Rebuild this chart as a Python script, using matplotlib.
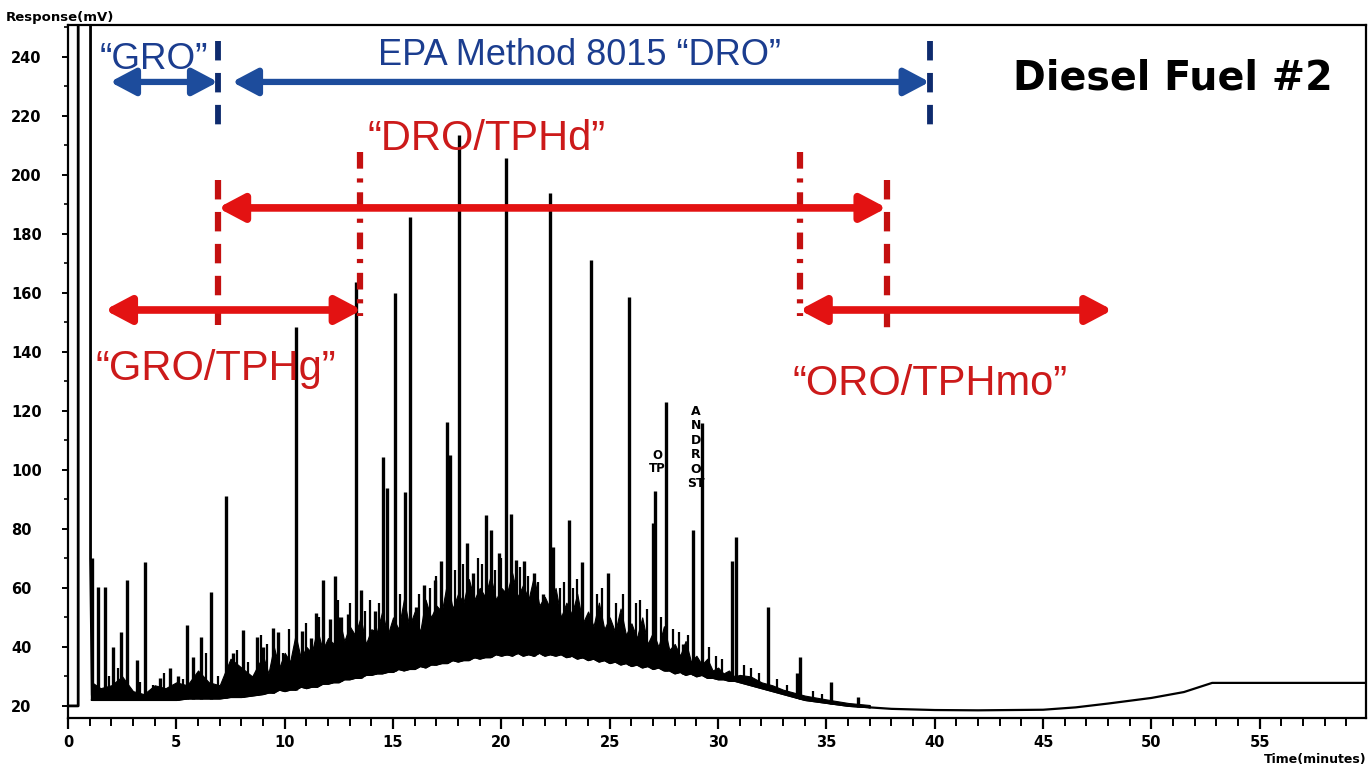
import numpy as np
import matplotlib
matplotlib.use("Agg")
import matplotlib.pyplot as plt
from matplotlib.ticker import MultipleLocator

plt.rcParams["lines.scale_dashes"] = False

# ---------------- data ----------------
# solvent front (off scale)
solvent_t = [0.0, 0.47, 0.47, 1.04, 1.04, 1.12]
solvent_v = [20, 20, 300, 300, 70, 24]

# unresolved hump: lower and upper edge of the dense trace
band_t = [1.1, 1.5, 2.0, 2.5, 3.0, 3.5, 4.0, 4.5, 5.0, 5.5, 6.0, 6.5, 7.0, 7.5,
          8.0, 8.5,
          9.0, 9.25, 9.5, 9.75, 10.0, 10.25, 10.5, 10.75, 11.0, 11.25, 11.5, 11.75,
          12.0, 12.25, 12.5, 12.75, 13.0, 13.25, 13.5, 13.75, 14.0, 14.25, 14.5,
          14.75, 15.0, 15.25, 15.5, 15.75, 16.0, 16.25, 16.5, 16.75, 17.0, 17.25,
          17.5, 17.75, 18.0, 18.25, 18.5, 18.75, 19.0, 19.25, 19.5, 19.75, 20.0,
          20.25, 20.5, 20.75, 21.0, 21.25, 21.5, 21.75, 22.0, 22.25, 22.5, 22.75,
          23.0, 23.25, 23.5, 23.75, 24.0, 24.25, 24.5, 24.75, 25.0, 25.25, 25.5,
          25.75, 26.0, 26.25, 26.5, 26.75, 27.0, 27.25, 27.5, 27.75, 28.0, 28.25,
          28.5, 28.75, 29.0, 29.25, 29.5, 29.75, 30.0, 30.25, 30.5, 30.75, 31.0,
          31.5, 32.0, 32.5, 33.0, 33.5, 34.0, 35.0, 36.0, 37.0]
band_lo = [22, 22, 22, 22, 22, 22, 22, 22, 22, 22.5, 22.5, 22.5, 22.5, 23,
           23, 23.5,
           24, 24.5, 24.5, 25.5, 25, 25.5, 25.5, 26.5, 26, 26.5, 26.5, 27.5,
           27.5, 28, 28, 29, 29, 29.5, 29.5, 30.5, 30.5, 31, 31,
           31.5, 31.5, 32.5, 32, 32.5, 32.5, 33.5, 33, 34, 34, 34.5,
           34.5, 35.5, 35, 35.5, 35.5, 36.5, 36, 36.5, 36.5, 37.5, 37,
           37.5, 37, 38, 37, 37.5, 37, 38, 37, 37.5, 37, 37.5,
           36.5, 37, 36, 36.5, 35.5, 36, 35, 35.5, 34.5, 35, 34,
           34.5, 33.5, 34, 33, 33.5, 32.5, 33, 32, 32, 31, 31.5,
           30.5, 31, 30, 30.5, 29.5, 29.5, 29, 29, 28.5, 28.5, 28,
           27, 26, 25, 24, 23, 22, 21, 20, 19.5]
band_hi = [28, 26, 27, 30, 25, 24, 27, 26, 28, 27, 32, 28, 27, 36,
           33, 30,
           37, 31, 40, 33, 38, 35, 44, 36, 40, 38, 46, 39,
           43, 41, 50, 42, 47, 44, 50, 41, 46, 45, 52,
           44, 50, 46, 56, 47, 52, 45, 56, 50, 54, 52,
           62, 53, 58, 55, 63, 56, 60, 57, 64, 56, 60,
           58, 65, 57, 61, 56, 64, 54, 57, 53, 60, 50,
           55, 51, 58, 48, 52, 47, 55, 46, 50, 45, 53,
           44, 48, 43, 50, 41, 45, 40, 47, 39, 41, 37,
           42, 35, 37, 34, 36, 32, 33, 31, 32, 30, 30.5,
           30, 28, 27, 25.5, 24.5, 23.5, 22.2, 21, 20.3]

# baseline after the hump (column bleed rise at the end)
tail_t = [37.0, 38.0, 40.0, 42.0, 45.0, 46.5, 48.0, 50.0, 51.5, 52.8, 59.9]
tail_v = [19.5, 19.0, 18.6, 18.5, 18.7, 19.5, 20.8, 22.7, 24.7, 27.8, 27.8]

# resolved peaks (retention time, apex response)
peak_t = [1.12, 1.4, 1.7, 2.09, 2.45, 2.7, 3.17, 3.55, 4.24, 4.7, 5.08, 5.47,
          5.77, 6.16, 6.62, 7.31, 7.6, 8.07, 8.7, 9.0, 9.45, 9.7, 10.5, 10.8,
          11.2, 11.45, 11.76, 12.07, 12.3, 12.6, 12.9, 13.3, 13.53, 14.15,
          14.53, 14.7, 15.07, 15.53, 15.8, 16.06, 16.44, 16.95, 17.2, 17.5,
          17.65, 18.06, 18.4, 18.7, 19.3, 19.5, 19.9, 20.2, 20.45, 20.67,
          21.05, 21.5, 21.9, 22.26, 22.4, 23.1, 23.7, 24.15, 24.9, 25.9,
          27.0, 27.1, 27.6, 28.4, 28.85, 29.26, 30.65, 30.83, 32.3, 33.65,
          33.8, 35.2, 36.45]
peak_h = [70, 60.4, 60.4, 40, 45, 62.7, 35.6, 68.9, 29.5, 32.9, 30, 47.5,
          36.6, 43.5, 58.7, 91, 38, 45.8, 43.5, 40, 46.4, 45, 148.5, 45.5,
          43, 51.5, 62.8, 49.3, 64, 50, 51, 163.7, 59.3, 52,
          104.5, 94, 160, 92.6, 185.8, 53.6, 61, 62.8, 69, 116.4,
          105, 213.6, 75.2, 65, 84.8, 79.7, 71.8, 205.8, 85, 69.5,
          69, 65, 58, 194, 74, 83, 68.8, 171, 65, 158.6,
          82, 93, 123, 41, 79.7, 116, 69, 77.3, 53.6, 31,
          36.6, 28, 23]

# small unresolved spikes on the hump
minor_t = [1.9, 2.3, 3.3, 3.9, 4.45, 5.3, 6.35, 6.9, 7.8, 8.3, 8.9, 9.2, 9.9,
           10.2, 11.0, 11.6, 12.45, 13.0, 13.7, 13.95, 14.35, 15.3, 16.2, 16.7,
           17.0, 17.85, 18.25, 18.9, 19.1, 19.7, 20.0, 20.85, 21.25, 21.7,
           22.7, 22.9, 23.3, 23.5, 24.4, 24.65, 25.3, 25.6, 26.2, 26.4, 26.7,
           27.35, 27.9, 28.2, 28.6, 29.6, 29.9, 30.2, 31.2, 31.5, 31.9, 32.7,
           33.2, 34.4, 34.8]
minor_h = [30, 33, 28, 27, 31, 29, 38, 30, 39, 35, 44, 41, 38,
           46, 48, 50, 56, 55, 52, 56, 55, 58, 58, 60,
           64, 66, 68, 70, 68, 66, 70, 67, 64, 62,
           60, 62, 60, 63, 58, 60, 55, 58, 55, 56, 53,
           50, 46, 45, 44, 40, 37, 36, 34, 33, 31, 29,
           27, 25, 24]

xticks = [0, 5, 10, 15, 20, 25, 30, 35, 40, 45, 50, 55]
yticks = [20, 40, 60, 80, 100, 120, 140, 160, 180, 200, 220, 240]

# ---------------- figure ----------------
W, H = 1371, 767
fig = plt.figure(figsize=(W / 100, H / 100), dpi=100)
ax = fig.add_axes([68 / W, 1 - 718 / H, (1366 - 68) / W, (718 - 25) / H])
ax.set_xlim(0, 59.9)
ax.set_ylim(15.9, 250.8)

# trace
ax.fill_between(band_t, band_lo, band_hi, color="black", lw=0.8)
ax.plot(band_t, band_lo, color="black", lw=1.4)
ax.plot(tail_t, tail_v, color="black", lw=1.6)
ax.plot(solvent_t, solvent_v, color="black", lw=2.0)
mbase = np.interp(minor_t, band_t, band_lo)
ax.vlines(minor_t, mbase, minor_h, color="black", lw=1.6)
pbase = np.interp(peak_t, band_t, band_lo)
ax.vlines(peak_t, pbase, peak_h, color="black", lw=2.4)

# axes styling
for s in ax.spines.values():
    s.set_linewidth(1.6)
    s.set_color("black")
ax.set_xticks(xticks)
ax.set_xticklabels([str(v) for v in xticks])
ax.set_yticks(yticks)
ax.set_yticklabels([str(v) for v in yticks])
ax.xaxis.set_minor_locator(MultipleLocator(1))
ax.yaxis.set_minor_locator(MultipleLocator(10))
ax.tick_params(axis="x", which="major", direction="out", length=8, width=1.6,
               labelsize=10.5, pad=4)
ax.tick_params(axis="x", which="minor", direction="out", length=6, width=1.4)
ax.tick_params(axis="y", which="major", direction="out", length=4, width=1.4,
               labelsize=10.5, pad=37)
ax.tick_params(axis="y", which="minor", direction="out", length=3, width=1.2)
for lab in ax.get_xticklabels() + ax.get_yticklabels():
    lab.set_fontweight("bold")
    lab.set_family("DejaVu Sans")
for lab in ax.get_yticklabels():
    lab.set_horizontalalignment("left")

fig.text(6 / W, 1 - 17 / H, "Response(mV)", fontsize=9.5, fontweight="bold",
         ha="left", va="center", family="DejaVu Sans")
fig.text(1367 / W, 1 - 759 / H, "Time(minutes)", fontsize=9, fontweight="bold",
         ha="right", va="center", family="DejaVu Sans")

# ---------------- annotations ----------------
BLUE_T = "#1b3d8f"
BLUE_A = "#1d4c9c"
BLUE_D = "#0e2b6e"
RED_T = "#cc1a1a"
RED_A = "#e31212"
RED_D = "#c41010"
TXT = ["Liberation Sans", "DejaVu Sans"]


def darrow(x1, x2, y, color, lw):
    ax.annotate("", xy=(x2, y), xytext=(x1, y),
                arrowprops=dict(arrowstyle="<|-|>,head_length=0.85,head_width=0.45",
                                mutation_scale=18, lw=lw, color=color,
                                shrinkA=0, shrinkB=0))


def vline(x, y1, y2, color, dashes, lw):
    ax.plot([x, x], [y1, y2], color=color, lw=lw, dashes=dashes,
            solid_capstyle="butt", dash_capstyle="butt")


dash = (14, 9)
dashdot = (12, 7, 3, 7)

# blue: GRO and EPA 8015 DRO
vline(6.92, 245.5, 216, BLUE_D, dash, 4.2)
vline(39.76, 245.5, 215, BLUE_D, dash, 4.2)
darrow(1.94, 6.92, 231.5, BLUE_A, 4.5)
darrow(7.57, 39.76, 231.5, BLUE_A, 4.5)
ax.text(1.45, 236, "\u201cGRO\u201d", color=BLUE_T, fontsize=26.5, family=TXT,
        ha="left", va="baseline")
ax.text(14.3, 237.3, "EPA Method 8015 \u201cDRO\u201d", color=BLUE_T,
        fontsize=26, family=TXT, ha="left", va="baseline")

# red: DRO/TPHd, GRO/TPHg, ORO/TPHmo
vline(6.92, 198.3, 149.0, RED_D, dash, 4.5)
vline(37.78, 198.3, 146.8, RED_D, dash, 4.5)
vline(13.47, 207.8, 152.0, RED_D, dashdot, 4.5)
vline(33.76, 207.8, 152.0, RED_D, dashdot, 4.5)
darrow(6.92, 37.78, 188.8, RED_A, 5.5)
darrow(1.70, 13.56, 154.2, RED_A, 5.5)
darrow(33.76, 48.2, 154.2, RED_A, 5.5)
ax.text(13.84, 208.5, "\u201cDRO/TPHd\u201d", color=RED_T, fontsize=30,
        family=TXT, ha="left", va="baseline")
ax.text(1.25, 130.5, "\u201cGRO/TPHg\u201d", color=RED_T, fontsize=30,
        family=TXT, ha="left", va="baseline")
ax.text(33.44, 125.4, "\u201cORO/TPHmo\u201d", color=RED_T, fontsize=30,
        family=TXT, ha="left", va="baseline")

ax.text(43.6, 228.8, "Diesel Fuel #2", color="black", fontsize=28.5,
        fontweight="bold", family="DejaVu Sans", ha="left", va="baseline")

# peak labels
ax.text(27.2, 107, "O\nTP", fontsize=8.5, fontweight="bold", ha="center",
        va="top", linespacing=1.0, family="DejaVu Sans")
ax.text(28.98, 122, "A\nN\nD\nR\nO\nST", fontsize=9, fontweight="bold",
        ha="center", va="top", linespacing=1.15, family="DejaVu Sans")

fig.savefig("out.png", dpi=100)
